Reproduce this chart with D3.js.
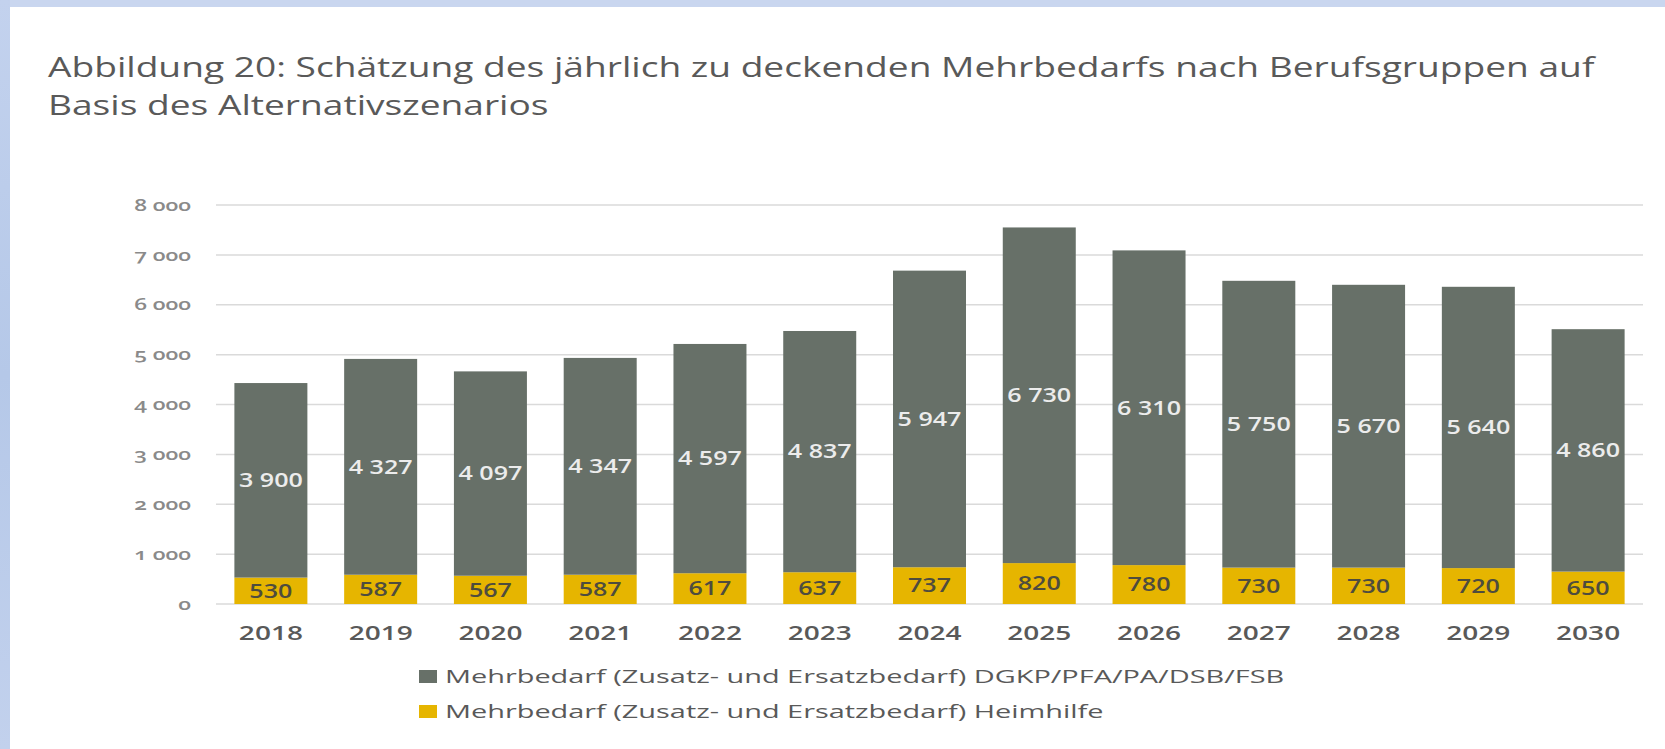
<!DOCTYPE html>
<html>
<head>
<meta charset="utf-8">
<script src="https://cdn.jsdelivr.net/npm/d3@7"></script>
<style>
	body { margin: 0; background: #fff; overflow: hidden; }
	svg text { font-family: "Open Sans", "Liberation Sans", sans-serif; }
	.y-axis text { font-variant-numeric: oldstyle-nums; }
</style>
</head>
<body>
<div id="chart-area"></div>
<script>

// chart data
let years = ["2018", "2019", "2020", "2021", "2022", "2023", "2024", "2025", "2026", "2027", "2028", "2029", "2030"];
let heimhilfe = [530, 587, 567, 587, 617, 637, 737, 820, 780, 730, 730, 720, 650];
let dgkp = [3900, 4327, 4097, 4347, 4597, 4837, 5947, 6730, 6310, 5750, 5670, 5640, 4860];
let yTicks = [0, 1000, 2000, 3000, 4000, 5000, 6000, 7000, 8000];
let seriesNames = ["Mehrbedarf (Zusatz- und Ersatzbedarf) DGKP/PFA/PA/DSB/FSB", "Mehrbedarf (Zusatz- und Ersatzbedarf) Heimhilfe"];
let titleLines = ["Abbildung 20: Schätzung des jährlich zu deckenden Mehrbedarfs nach Berufsgruppen auf", "Basis des Alternativszenarios"];

// the source picture is stretched sideways, so the text is too
function stretch(sel, factor) {
	sel.each(function () {
		let w = this.getComputedTextLength();
		d3.select(this)
			.attr("textLength", w * factor)
			.attr("lengthAdjust", "spacingAndGlyphs");
	});
}

class StackedBarChart {

	constructor(parentElement) {
		this.parentElement = parentElement;
		this.initVis();
	}

	initVis() {
		let vis = this;

		vis.width = 1665;
		vis.height = 749;

		vis.svg = d3.select("#" + vis.parentElement).append("svg")
			.attr("width", vis.width)
			.attr("height", vis.height);

		// light blue frame on the top and left edges
		let grad = vis.svg.append("defs").append("linearGradient")
			.attr("id", "sideGrad")
			.attr("x1", 0).attr("y1", 0).attr("x2", 0).attr("y2", 1);
		grad.append("stop").attr("offset", "0%").attr("stop-color", "#c3d2ee");
		grad.append("stop").attr("offset", "50%").attr("stop-color", "#b5c8e8");
		grad.append("stop").attr("offset", "100%").attr("stop-color", "#c2d1ed");

		vis.svg.append("rect")
			.attr("width", vis.width).attr("height", 7)
			.attr("fill", "#c9d6ef");
		vis.svg.append("rect")
			.attr("width", 10).attr("height", vis.height)
			.attr("fill", "url(#sideGrad)");

		// title
		vis.svg.selectAll(".title")
			.data(titleLines)
			.enter()
			.append("text")
			.attr("class", "title")
			.attr("x", 48)
			.attr("y", (d, i) => 77 + i * 38)
			.attr("fill", "#595959")
			.style("font-size", "27px")
			.text(d => d)
			.call(stretch, 1.375);

		vis.x = d3.scaleBand()
			.domain(years)
			.range([216, 1643])
			.paddingInner(0.335)
			.paddingOuter(0.1675);

		vis.y = d3.scaleLinear()
			.domain([0, 8000])
			.range([604, 205]);

		vis.numFormat = d3.formatLocale({decimal: ",", thousands: " ", grouping: [3], currency: ["", ""]}).format(",d");

		vis.wrangleData();
	}

	wrangleData() {
		let vis = this;

		vis.displayData = years.map((yr, i) => ({year: yr, heimhilfe: heimhilfe[i], dgkp: dgkp[i]}));
		vis.stacked = d3.stack().keys(["heimhilfe", "dgkp"])(vis.displayData);

		vis.updateVis();
	}

	updateVis() {
		let vis = this;
		let colors = {dgkp: "#677068", heimhilfe: "#e6b500"};
		let labelColors = {dgkp: "#ececec", heimhilfe: "#4e4c3e"};

		// gridlines
		vis.svg.append("g")
			.attr("class", "grid")
			.selectAll("line")
			.data(yTicks)
			.enter()
			.append("line")
			.attr("x1", 216)
			.attr("x2", 1643)
			.attr("y1", d => vis.y(d))
			.attr("y2", d => vis.y(d))
			.attr("stroke", "#dadada")
			.attr("stroke-width", 1.5);

		// y axis labels
		let yAxis = vis.svg.append("g")
			.attr("class", "y-axis")
			.attr("transform", "translate(216,0)")
			.call(d3.axisLeft(vis.y)
				.tickValues(yTicks)
				.tickSize(0)
				.tickPadding(25)
				.tickFormat(vis.numFormat));
		yAxis.select(".domain").remove();
		yAxis.selectAll("text")
			.attr("fill", "#8a8a8a")
			.style("font-size", "16px")
			.style("font-weight", "600")
			.call(stretch, 1.42);

		// bars
		let layers = vis.svg.selectAll(".layer")
			.data(vis.stacked)
			.enter()
			.append("g")
			.attr("class", "layer")
			.attr("fill", d => colors[d.key]);

		layers.selectAll("rect")
			.data(d => d)
			.enter()
			.append("rect")
			.attr("x", d => vis.x(d.data.year))
			.attr("y", d => vis.y(d[1]))
			.attr("width", vis.x.bandwidth())
			.attr("height", d => vis.y(d[0]) - vis.y(d[1]));

		// value labels
		vis.stacked.forEach(function (layer) {
			vis.svg.append("g")
				.attr("class", "values")
				.selectAll("text")
				.data(layer)
				.enter()
				.append("text")
				.attr("x", d => vis.x(d.data.year) + vis.x.bandwidth() / 2)
				.attr("y", d => vis.y((d[0] + d[1]) / 2))
				.attr("dy", "0.36em")
				.attr("text-anchor", "middle")
				.attr("fill", labelColors[layer.key])
				.style("font-size", "19px")
				.style("font-weight", "600")
				.text(d => vis.numFormat(d[1] - d[0]))
				.call(stretch, 1.32);
		});

		// x axis
		let xAxis = vis.svg.append("g")
			.attr("class", "x-axis")
			.attr("transform", "translate(0,604)")
			.call(d3.axisBottom(vis.x).tickSize(0));
		xAxis.select(".domain").remove();
		xAxis.selectAll("text")
			.attr("y", 36)
			.attr("dy", 0)
			.attr("fill", "#595959")
			.style("font-size", "20px")
			.style("font-weight", "600")
			.call(stretch, 1.4);

		// legend
		let legend = vis.svg.append("g")
			.attr("class", "legend")
			.selectAll("g")
			.data(["dgkp", "heimhilfe"])
			.enter()
			.append("g")
			.attr("transform", (d, i) => "translate(419," + (683 + i * 35) + ")");

		legend.append("rect")
			.attr("y", -13)
			.attr("width", 18)
			.attr("height", 13)
			.attr("fill", d => colors[d]);

		legend.append("text")
			.attr("x", 26)
			.attr("fill", "#595959")
			.style("font-size", "19px")
			.text((d, i) => seriesNames[i])
			.call(stretch, 1.52);
	}
}

document.fonts.ready.then(function () {
	new StackedBarChart("chart-area");
});

</script>
</body>
</html>
